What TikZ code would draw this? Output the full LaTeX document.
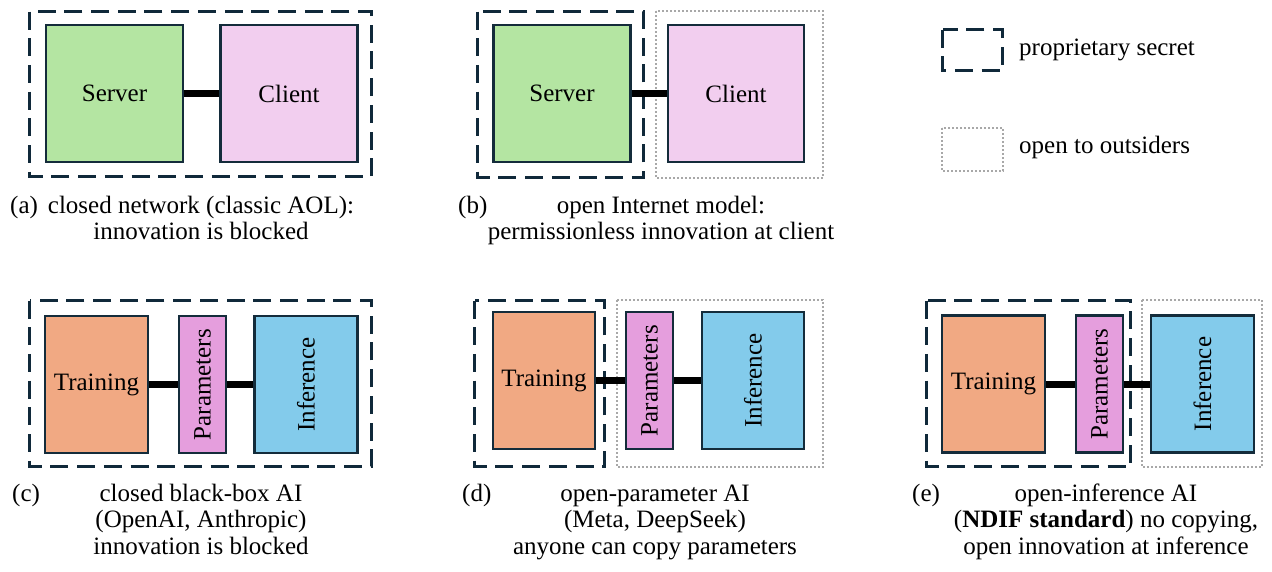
\documentclass[tikz,border=0pt]{standalone}
\usepackage{fontspec}
\setmainfont{Liberation Serif}
\definecolor{edge}{HTML}{142C3B}
\definecolor{secretcol}{HTML}{10293A}
\definecolor{opencol}{HTML}{A8A8A8}
\definecolor{servercol}{HTML}{B4E5A2}
\definecolor{clientcol}{HTML}{F2CEEF}
\definecolor{traincol}{HTML}{F1A983}
\definecolor{paramcol}{HTML}{E59EDD}
\definecolor{infercol}{HTML}{83CBEB}
\tikzset{
  unit/.style={draw=edge, line width=2.6pt, inner sep=0pt, align=center},
  sq/.style={unit, minimum width=137pt, minimum height=137pt},
  wide/.style={unit, minimum width=103pt, minimum height=137pt},
  thin/.style={unit, minimum width=47pt, minimum height=137pt},
  vert/.style={rotate=90},
  link/.style={line width=7pt, black},
  secret/.style={draw=secretcol, line width=3pt, dash pattern=on 18pt off 8.7pt},
  openarea/.style={draw=opencol, line width=2pt, dash pattern=on 2pt off 2pt},
  % captions are placed by the baseline of their last line
  caption/.style={align=center, anchor=base, inner sep=0pt},
  tag/.style={anchor=base west, inner sep=0pt},
}
\begin{document}
\begin{tikzpicture}[x=1pt, y=-1pt, font=\fontsize{25}{26.5}\selectfont]
\useasboundingbox (0,0) rectangle (1272,571);

% (a) closed network
\draw[secret] (29.5,11.5) rectangle (371.5,176.5);
\node[sq, fill=servercol] (srvA) at (114.5,93.5) {Server};
\node[sq, fill=clientcol] (cliA) at (289,93.5) {Client};
\draw[link] (srvA) -- (cliA);
\node[tag] (tagA) at (10,213) {(a)};
\node[caption] (capA) at (201,239.5) {closed network (classic AOL):\\innovation is blocked};

% (b) open Internet
\draw[secret] (477.5,11.5) rectangle (643.5,177.5);
\draw[openarea] (656,11) rectangle (823,178);
\node[sq, fill=servercol] (srvB) at (562,93.5) {Server};
\node[sq, fill=clientcol, minimum width=136pt] (cliB) at (736,93.5) {Client};
\draw[link] (srvB) -- (cliB);
\node[tag] (tagB) at (458,213) {(b)};
\node[caption] (capB) at (661,239.5) {open Internet model:\\permissionless innovation at client};

% legend
\draw[secret] (942.5,29.5) rectangle (1002.5,70.5);
\node[tag] (legS) at (1019,55) {proprietary secret};
\draw[openarea] (942,128) rectangle (1003,171);
\node[tag] (legO) at (1019,153) {open to outsiders};

% (c) closed black-box AI
\draw[secret] (29.5,300.5) rectangle (371.5,466.5);
\node[wide, fill=traincol] (trC) at (96.5,384.5) {Training};
\node[thin, fill=paramcol] (paC) at (202.5,384.5) {};
\node[vert] at (paC) {Parameters};
\node[wide, fill=infercol] (inC) at (306,384.5) {};
\node[vert] at (inC) {Inference};
\draw[link] (trC) -- (paC);
\draw[link] (paC) -- (inC);
\node[tag] (tagC) at (12,501) {(c)};
\node[caption] (capC) at (201,554) {closed black-box AI\\(OpenAI, Anthropic)\\innovation is blocked};

% (d) open-parameter AI
\draw[secret] (474.5,300.5) rectangle (604.5,466.5);
\draw[openarea] (617,300) rectangle (823,467);
\node[wide, fill=traincol, minimum width=102pt] (trD) at (544,380.5) {Training};
\node[thin, fill=paramcol] (paD) at (649.5,380.5) {};
\node[vert] at (paD) {Parameters};
\node[wide, fill=infercol, minimum width=102pt] (inD) at (753,380.5) {};
\node[vert] at (inD) {Inference};
\draw[link] (trD) -- (paD);
\draw[link] (paD) -- (inD);
\node[tag] (tagD) at (462,501) {(d)};
\node[caption] (capD) at (655,554) {open-parameter AI\\(Meta, DeepSeek)\\anyone can copy parameters};

% (e) open-inference AI
\draw[secret] (926.5,300.5) rectangle (1130.5,466.5);
\draw[openarea] (1142,300) rectangle (1262,467);
\node[wide, fill=traincol] (trE) at (993.5,384) {Training};
\node[thin, fill=paramcol] (paE) at (1099.5,384) {};
\node[vert] at (paE) {Parameters};
\node[wide, fill=infercol] (inE) at (1202.5,384) {};
\node[vert] at (inE) {Inference};
\draw[link] (trE) -- (paE);
\draw[link] (paE) -- (inE);
\node[tag] (tagE) at (912,501) {(e)};
\node[caption] (capE) at (1106,554) {open-inference AI\\(\textbf{NDIF standard}) no copying,\\open innovation at inference};
\end{tikzpicture}
\end{document}
